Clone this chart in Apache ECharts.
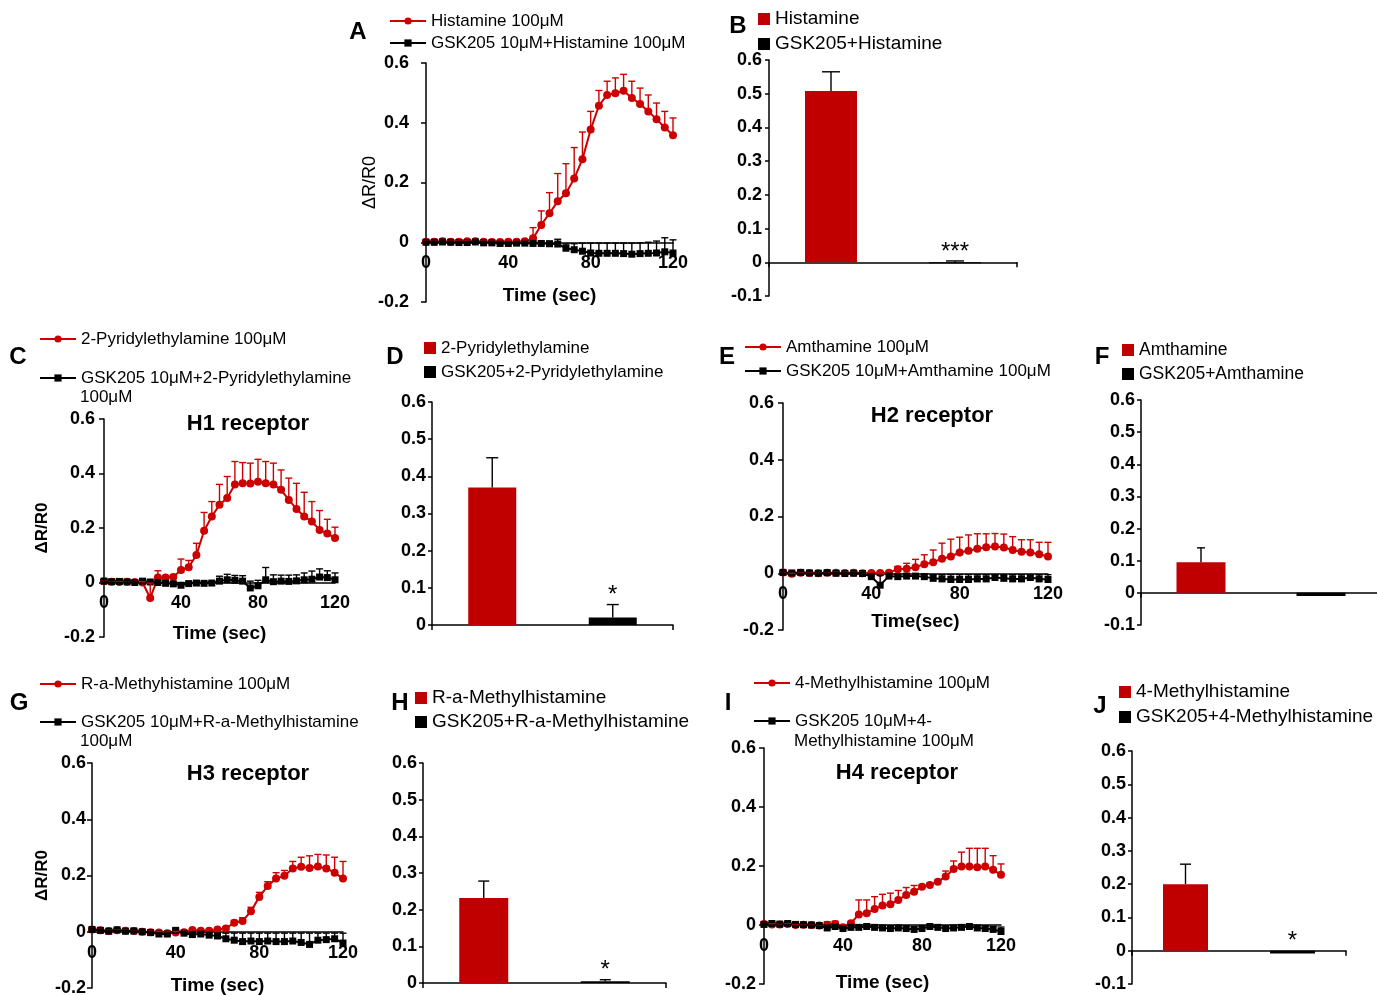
<!DOCTYPE html>
<html><head><meta charset="utf-8">
<script src="https://cdn.jsdelivr.net/npm/echarts@6/dist/echarts.min.js"></script>
<style>html,body{margin:0;padding:0;background:#fff}#c{width:1377px;height:996px}</style>
</head><body><div id="c"></div>
<script>
const FONT = '"Liberation Sans", Arial, Helvetica, sans-serif';
const RED = '#cc0000', BAR_RED = '#c00000', BLK = '#000000';

// ---------- data ----------
const time = [0,4,8,12,16,20,24,28,32,36,40,44,48,52,56,60,64,68,72,76,80,84,88,92,96,100,104,108,112,116,120];

const aRed      = [0.002,0.002,0.003,0.002,0.002,0.003,0.003,0.002,0.001,0.001,0.002,0.002,0.003,0.013,0.058,0.097,0.137,0.164,0.213,0.278,0.377,0.457,0.493,0.499,0.507,0.483,0.463,0.438,0.412,0.384,0.358];
const aRedSem   = [0.003,0.003,0.003,0.003,0.003,0.003,0.003,0.003,0.003,0.003,0.003,0.003,0.004,0.036,0.047,0.069,0.093,0.099,0.104,0.091,0.061,0.051,0.046,0.051,0.055,0.056,0.053,0.055,0.054,0.054,0.058];
const aBlack    = [0.000,0.000,0.001,0.000,-0.001,-0.001,0.001,-0.002,-0.002,-0.004,-0.004,-0.003,-0.003,-0.004,-0.004,-0.005,-0.006,-0.020,-0.025,-0.030,-0.036,-0.037,-0.037,-0.037,-0.038,-0.040,-0.038,-0.037,-0.036,-0.032,-0.036];
const aBlackSem = [0.004,0.004,0.004,0.004,0.004,0.004,0.005,0.005,0.005,0.005,0.006,0.006,0.006,0.006,0.007,0.008,0.016,0.014,0.020,0.027,0.033,0.034,0.034,0.034,0.035,0.037,0.036,0.037,0.040,0.047,0.044];

const cRed      = [0.005,0.003,0.002,0.003,0.002,0.000,-0.057,0.018,0.018,0.020,0.046,0.056,0.101,0.190,0.242,0.285,0.310,0.360,0.364,0.363,0.370,0.364,0.360,0.340,0.303,0.270,0.242,0.224,0.193,0.180,0.163];
const cRedSem   = [0.004,0.003,0.003,0.003,0.003,0.003,0.055,0.025,0.004,0.008,0.040,0.025,0.043,0.067,0.055,0.075,0.079,0.084,0.076,0.075,0.082,0.080,0.078,0.073,0.080,0.094,0.089,0.073,0.071,0.052,0.040];
const cBlack    = [0.005,0.003,0.004,0.002,0.000,0.005,0.002,0.000,-0.003,-0.005,-0.010,-0.004,-0.002,-0.003,-0.002,0.005,0.010,0.008,0.005,-0.020,-0.012,0.010,0.003,0.005,0.004,0.006,0.010,0.012,0.020,0.018,0.010];
const cBlackSem = [0.006,0.005,0.005,0.005,0.005,0.006,0.006,0.006,0.006,0.006,0.008,0.006,0.006,0.006,0.006,0.018,0.020,0.018,0.020,0.025,0.020,0.045,0.025,0.022,0.023,0.022,0.025,0.030,0.030,0.025,0.025];

const eRed      = [0.003,-0.002,0.002,0.001,0.000,0.002,0.002,0.001,0.002,0.000,0.001,0.001,0.002,0.014,0.016,0.021,0.032,0.039,0.051,0.059,0.073,0.079,0.086,0.092,0.094,0.091,0.082,0.076,0.073,0.067,0.059];
const eRedSem   = [0.003,0.003,0.003,0.003,0.003,0.003,0.003,0.003,0.003,0.003,0.003,0.003,0.005,0.010,0.019,0.028,0.033,0.043,0.055,0.061,0.054,0.056,0.053,0.047,0.046,0.047,0.047,0.042,0.045,0.042,0.050];
const eBlack    = [0.003,0.001,0.003,0.001,0.000,0.002,0.000,-0.001,0.000,-0.001,-0.012,-0.042,-0.010,-0.012,-0.010,-0.010,-0.012,-0.018,-0.020,-0.022,-0.022,-0.022,-0.020,-0.020,-0.015,-0.018,-0.020,-0.020,-0.015,-0.020,-0.022];
const eBlackSem = [0.004,0.004,0.004,0.004,0.004,0.004,0.004,0.004,0.004,0.004,0.010,0.035,0.008,0.008,0.007,0.007,0.008,0.013,0.015,0.017,0.017,0.017,0.015,0.015,0.010,0.013,0.015,0.015,0.010,0.015,0.017];

const gRed      = [0.008,0.005,0.003,0.005,0.004,0.003,0.000,-0.002,-0.003,-0.005,-0.003,-0.002,0.006,0.004,0.004,0.008,0.012,0.032,0.038,0.073,0.124,0.163,0.189,0.199,0.225,0.231,0.227,0.232,0.225,0.210,0.189];
const gRedSem   = [0.004,0.004,0.004,0.004,0.004,0.004,0.004,0.004,0.004,0.004,0.004,0.004,0.004,0.004,0.004,0.004,0.005,0.008,0.012,0.014,0.016,0.015,0.021,0.019,0.025,0.034,0.043,0.043,0.048,0.055,0.061];
const gBlack    = [0.008,0.005,0.002,0.007,0.002,0.003,0.000,-0.003,-0.008,-0.008,0.005,-0.005,-0.010,-0.008,-0.012,-0.015,-0.025,-0.030,-0.035,-0.033,-0.035,-0.033,-0.035,-0.035,-0.033,-0.038,-0.045,-0.030,-0.028,-0.025,-0.040];
const gBlackSem = [0.004,0.004,0.004,0.004,0.004,0.004,0.004,0.004,0.004,0.004,0.005,0.005,0.006,0.006,0.008,0.010,0.020,0.025,0.030,0.028,0.030,0.028,0.030,0.030,0.028,0.033,0.040,0.025,0.023,0.020,0.035];

const iRed      = [0.003,0.002,0.002,0.003,0.000,0.001,0.000,-0.002,0.001,0.003,-0.008,0.006,0.036,0.040,0.054,0.066,0.070,0.085,0.102,0.113,0.130,0.136,0.147,0.164,0.190,0.198,0.198,0.196,0.198,0.187,0.170];
const iRedSem   = [0.003,0.003,0.003,0.003,0.003,0.003,0.003,0.003,0.010,0.010,0.005,0.005,0.049,0.045,0.042,0.038,0.038,0.032,0.025,0.021,0.006,0.006,0.004,0.019,0.027,0.049,0.062,0.064,0.062,0.048,0.037];
const iBlack    = [0.002,0.005,0.003,0.005,0.002,0.001,0.000,-0.002,-0.010,-0.005,-0.012,-0.008,-0.008,-0.005,-0.008,-0.010,-0.012,-0.010,-0.012,-0.015,-0.012,-0.005,-0.008,-0.012,-0.010,-0.008,-0.005,-0.010,-0.012,-0.015,-0.022];
const iBlackSem = [0.004,0.004,0.004,0.004,0.004,0.004,0.004,0.004,0.008,0.005,0.008,0.006,0.006,0.005,0.006,0.007,0.008,0.007,0.008,0.010,0.008,0.004,0.006,0.008,0.007,0.006,0.004,0.007,0.008,0.010,0.015];

const bMean = [0.508, -0.003]; const bSem = [0.057, 0.007]; const bSig = ['', '***'];
const dMean = [0.370, 0.020];  const dSem = [0.080, 0.035]; const dSig = ['', '*'];
const fMean = [0.095, -0.010]; const fSem = [0.045, 0];     const fSig = ['', ''];
const hMean = [0.232, 0.005];  const hSem = [0.046, 0.004]; const hSig = ['', '*'];
const jMean = [0.200, -0.008]; const jSem = [0.060, 0];     const jSig = ['', '*'];

const lineY = [-0.2, 0.6, 0.2];   // min, max, interval
const timeX = [0, 120, 40];       // min, max, interval
const barYMax = 0.6, barYInterval = 0.1;

// ---------- builders ----------
const grids = [], xAxes = [], yAxes = [], series = [], legends = [], graphics = [];

function errSeries(idx, xs, means, sems, color, cap, sig) {
  return {
    type: 'custom', xAxisIndex: idx, yAxisIndex: idx, silent: true, z: 4,
    data: means.map((m, i) => [xs[i], m, sems[i]]),
    encode: { x: 0, y: 1 },
    renderItem(params, api) {
      const x = api.value(0), y = api.value(1), e = api.value(2);
      const children = [];
      const st = { stroke: color, lineWidth: 1.4 };
      if (e > 0) {
        const p0 = api.coord([x, y]), p1 = api.coord([x, y + e]);
        children.push({ type: 'line', shape: { x1: p0[0], y1: p0[1], x2: p1[0], y2: p1[1] }, style: st });
        children.push({ type: 'line', shape: { x1: p1[0] - cap / 2, y1: p1[1], x2: p1[0] + cap / 2, y2: p1[1] }, style: st });
      }
      if (sig && sig[params.dataIndex]) {
        const t = api.coord([x, Math.max(y + e, 0)]);
        children.push({ type: 'text', x: t[0], y: t[1] - 9,
          style: { text: sig[params.dataIndex], fill: '#000', font: '24px ' + FONT, align: 'center', verticalAlign: 'middle' } });
      }
      return { type: 'group', children };
    }
  };
}

function gridBox(b) {
  return { left: b[0], top: b[1], width: b[2] - b[0], height: b[3] - b[1], containLabel: false, outerBoundsMode: 'none' };
}

function linePanel(idx, box, names, red, redSem, blk, blkSem, o) {
  grids.push(gridBox(box));
  const h = box[3] - box[1];
  // x axis sits at y = 0: shift it up from the grid bottom by the pixel span of [min, 0]
  const zeroOffset = -h * (0 - lineY[0]) / (lineY[1] - lineY[0]);
  xAxes.push({
    gridIndex: idx, type: 'value', min: timeX[0], max: timeX[1], interval: timeX[2],
    position: 'bottom', offset: zeroOffset,
    axisLine: { onZero: false, lineStyle: { color: BLK, width: 1.5 } },
    axisTick: { show: false }, splitLine: { show: false },
    axisLabel: { color: BLK, fontFamily: FONT, fontWeight: 'bold', fontSize: 18, margin: 12 },
    name: o.xName, nameLocation: 'middle', nameGap: o.xGap, nameMoveOverlap: false,
    nameTextStyle: { color: BLK, fontFamily: FONT, fontWeight: 'bold', fontSize: 19 }
  });
  yAxes.push({
    gridIndex: idx, type: 'value', min: lineY[0], max: lineY[1], interval: lineY[2],
    axisLine: { show: true, onZero: false, lineStyle: { color: BLK, width: 1.5 } },
    axisTick: { show: true, inside: false, length: 5, lineStyle: { color: BLK, width: 1.5 } },
    splitLine: { show: false },
    axisLabel: { color: BLK, fontFamily: FONT, fontWeight: 'bold', fontSize: 18, margin: o.yMargin },
    name: o.yName || '', nameLocation: 'middle', nameRotate: 90, nameGap: o.yGap || 40, nameMoveOverlap: false,
    nameTextStyle: { color: BLK, fontFamily: FONT, fontWeight: o.yBold ? 'bold' : 'normal', fontSize: o.yBold ? 17 : 18 }
  });
  series.push({ type: 'line', name: names[0], xAxisIndex: idx, yAxisIndex: idx,
    data: time.map((t, i) => [t, red[i]]), symbol: 'circle', symbolSize: 8,
    lineStyle: { color: RED, width: 2 }, itemStyle: { color: RED }, z: 2 });
  series.push(errSeries(idx, time, red, redSem, RED, 7));
  series.push({ type: 'line', name: names[1], xAxisIndex: idx, yAxisIndex: idx,
    data: time.map((t, i) => [t, blk[i]]), symbol: 'rect', symbolSize: 7,
    lineStyle: { color: BLK, width: 2 }, itemStyle: { color: BLK }, z: 3 });
  series.push(errSeries(idx, time, blk, blkSem, BLK, 7));
}

function barPanel(idx, box, names, mean, sem, sig, o) {
  grids.push(gridBox(box));
  const h = box[3] - box[1];
  const zeroOffset = -h * (0 - o.min) / (barYMax - o.min);
  xAxes.push({
    gridIndex: idx, type: 'category', data: names, boundaryGap: true,
    position: 'bottom', offset: zeroOffset,
    axisLine: { onZero: false, lineStyle: { color: BLK, width: 1.5 } },
    axisTick: { show: true, inside: false, length: 5, alignWithLabel: false, lineStyle: { color: BLK, width: 1.5 } },
    axisLabel: { show: false }, splitLine: { show: false }
  });
  yAxes.push({
    gridIndex: idx, type: 'value', min: o.min, max: barYMax, interval: barYInterval,
    axisLine: { show: true, onZero: false, lineStyle: { color: BLK, width: 1.5 } },
    axisTick: { show: true, inside: false, length: 4, lineStyle: { color: BLK, width: 1.5 } },
    splitLine: { show: false },
    axisLabel: { color: BLK, fontFamily: FONT, fontWeight: 'bold', fontSize: 18, margin: o.yMargin }
  });
  series.push({ type: 'bar', name: names[0], xAxisIndex: idx, yAxisIndex: idx,
    data: [mean[0], '-'], barWidth: o.barW, barGap: '-100%', itemStyle: { color: BAR_RED }, z: 2 });
  series.push({ type: 'bar', name: names[1], xAxisIndex: idx, yAxisIndex: idx,
    data: ['-', mean[1]], barWidth: o.barW, barGap: '-100%', itemStyle: { color: BLK }, z: 2 });
  series.push(errSeries(idx, [0, 1], mean, sem, BLK, o.cap, sig));
}

function addLegend(name, left, cy, fontSize, kind, text) {
  const lh = Math.round(fontSize * 1.2);
  const ih = kind === 'line' ? 9 : 12;
  const h = Math.max(ih, lh);
  const l = {
    data: [name], left: left, top: cy - h / 2, orient: 'horizontal', padding: 0, selectedMode: false,
    itemWidth: kind === 'line' ? 36 : 12, itemHeight: ih,
    textStyle: { fontFamily: FONT, fontSize: fontSize, color: BLK, lineHeight: lh }
  };
  if (kind === 'bar') l.icon = 'rect';
  if (text) l.formatter = function () { return text; };
  legends.push(l);
}

function addText(str, x, y, size, bold, align) {
  graphics.push({ type: 'text', x: x, y: y, silent: true,
    style: { text: str, fill: BLK, font: (bold ? 'bold ' : '') + size + 'px ' + FONT, align: align || 'center', verticalAlign: 'middle' } });
}

// ---------- panels ----------
linePanel(0, [426, 63, 673, 302], ['Histamine 100μM', 'GSK205 10μM+Histamine 100μM'], aRed, aRedSem, aBlack, aBlackSem,
  { xName: 'Time (sec)', xGap: 44, yName: 'ΔR/R0', yGap: 47, yBold: false, yMargin: 17 });
barPanel(1, [769, 60, 1017, 296], ['Histamine', 'GSK205+Histamine'], bMean, bSem, bSig, { min: -0.1, barW: 52, cap: 18, yMargin: 7 });
linePanel(2, [104, 419, 335, 637], ['2-Pyridylethylamine 100μM', 'GSK205 10μM+2-Pyridylethylamine 100μM'], cRed, cRedSem, cBlack, cBlackSem,
  { xName: 'Time (sec)', xGap: 42, yName: 'ΔR/R0', yGap: 53, yBold: true, yMargin: 9 });
barPanel(3, [432, 402, 673, 625], ['2-Pyridylethylamine', 'GSK205+2-Pyridylethylamine'], dMean, dSem, dSig, { min: 0, barW: 48, cap: 12, yMargin: 6 });
linePanel(4, [783, 403, 1048, 630], ['Amthamine 100μM', 'GSK205 10μM+Amthamine 100μM'], eRed, eRedSem, eBlack, eBlackSem,
  { xName: 'Time(sec)', xGap: 39, yMargin: 9 });
barPanel(5, [1141, 400, 1381, 625], ['Amthamine', 'GSK205+Amthamine'], fMean, fSem, fSig, { min: -0.1, barW: 49, cap: 8, yMargin: 6 });
linePanel(6, [92, 763, 343, 988], ['R-a-Methyhistamine 100μM', 'GSK205 10μM+R-a-Methylhistamine 100μM'], gRed, gRedSem, gBlack, gBlackSem,
  { xName: 'Time (sec)', xGap: 45, yName: 'ΔR/R0', yGap: 41, yBold: true, yMargin: 6 });
barPanel(7, [423, 763, 666, 983], ['R-a-Methylhistamine', 'GSK205+R-a-Methylhistamine'], hMean, hSem, hSig, { min: 0, barW: 49, cap: 11, yMargin: 6 });
linePanel(8, [764, 748, 1001, 984], ['4-Methylhistamine 100μM', 'GSK205 10μM+4-Methylhistamine 100μM'], iRed, iRedSem, iBlack, iBlackSem,
  { xName: 'Time (sec)', xGap: 48, yMargin: 8 });
barPanel(9, [1132, 751, 1346, 984], ['4-Methylhistamine', 'GSK205+4-Methylhistamine'], jMean, jSem, jSig, { min: -0.1, barW: 45, cap: 11, yMargin: 6 });

// ---------- legends ----------
addLegend('Histamine 100μM', 389, 21, 17, 'line');
addLegend('GSK205 10μM+Histamine 100μM', 389, 43, 17, 'line');
addLegend('Histamine', 758, 19, 19, 'bar');
addLegend('GSK205+Histamine', 758, 44, 19, 'bar');
addLegend('2-Pyridylethylamine 100μM', 39, 339, 17, 'line');
addLegend('GSK205 10μM+2-Pyridylethylamine 100μM', 39, 378, 17, 'line', 'GSK205 10μM+2-Pyridylethylamine');
addLegend('2-Pyridylethylamine', 424, 348, 17, 'bar');
addLegend('GSK205+2-Pyridylethylamine', 424, 372, 17, 'bar');
addLegend('Amthamine 100μM', 744, 347, 17, 'line');
addLegend('GSK205 10μM+Amthamine 100μM', 744, 371, 17, 'line');
addLegend('Amthamine', 1122, 350, 17.5, 'bar');
addLegend('GSK205+Amthamine', 1122, 374, 17.5, 'bar');
addLegend('R-a-Methyhistamine 100μM', 39, 684, 17, 'line');
addLegend('GSK205 10μM+R-a-Methylhistamine 100μM', 39, 722, 17, 'line', 'GSK205 10μM+R-a-Methylhistamine');
addLegend('R-a-Methylhistamine', 415, 698, 19, 'bar');
addLegend('GSK205+R-a-Methylhistamine', 415, 722, 19, 'bar');
addLegend('4-Methylhistamine 100μM', 753, 683, 17, 'line');
addLegend('GSK205 10μM+4-Methylhistamine 100μM', 753, 721, 17, 'line', 'GSK205 10μM+4-');
addLegend('4-Methylhistamine', 1119, 692, 19, 'bar');
addLegend('GSK205+4-Methylhistamine', 1119, 717, 19, 'bar');

// legend continuation lines
addText('100μM', 80, 397, 17, false, 'left');
addText('100μM', 80, 741, 17, false, 'left');
addText('Methylhistamine 100μM', 794, 741, 17, false, 'left');

// panel letters
addText('A', 358, 32, 24, true);
addText('B', 738, 26, 24, true);
addText('C', 18, 357, 24, true);
addText('D', 395, 357, 24, true);
addText('E', 727, 357, 24, true);
addText('F', 1102, 357, 24, true);
addText('G', 19, 703, 24, true);
addText('H', 400, 703, 24, true);
addText('I', 728, 703, 24, true);
addText('J', 1100, 706, 24, true);

// receptor titles
addText('H1 receptor', 248, 424, 22, true);
addText('H2 receptor', 932, 416, 22, true);
addText('H3 receptor', 248, 774, 22, true);
addText('H4 receptor', 897, 773, 22, true);

const chart = echarts.init(document.getElementById('c'));
chart.setOption({
  backgroundColor: '#ffffff',
  animation: false,
  grid: grids, xAxis: xAxes, yAxis: yAxes, series: series, legend: legends,
  graphic: { elements: graphics }
});
</script></body></html>
